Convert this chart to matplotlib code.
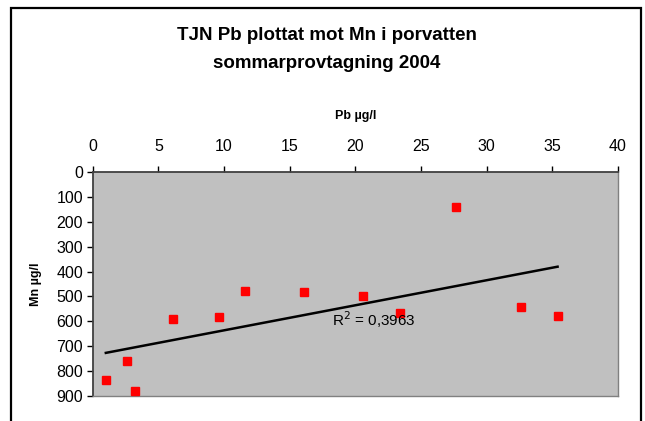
import numpy as np
from matplotlib import pyplot as plt
from matplotlib.patches import Rectangle

pb = [1.0, 2.6, 3.2, 6.1, 9.6, 11.6, 16.1, 20.6, 23.4, 27.7, 32.6, 35.4]
mn = [834, 757, 880, 589, 582, 477, 482, 498, 565, 143, 541, 578]
r2_text = 'R$^2$ = 0,3963'
xticks = [0, 5, 10, 15, 20, 25, 30, 35, 40]
yticks = [0, 100, 200, 300, 400, 500, 600, 700, 800, 900]

plt.rcParams['font.family'] = ['Liberation Sans', 'DejaVu Sans']

fig = plt.figure(figsize=(6.45, 4.21), dpi=100)
ax = fig.add_axes([92.7/645, 1-396.3/421, (618-92.7)/645, (396.3-171.7)/421])

# outer chart border, bottom runs off the picture
fig.patches.append(Rectangle((11/645, -0.1), 630/645, 1.1 - 8/421, transform=fig.transFigure,
                             fill=False, edgecolor='black', linewidth=1.6))

ax.set_facecolor('#c0c0c0')
ax.plot(pb, mn, 's', color='#ff0000', markersize=5.5, zorder=3)

k, m = np.polyfit(pb, mn, 1)
xs = np.array([min(pb), max(pb)])
ax.plot(xs, k*xs + m, color='black', linewidth=1.8, zorder=2)

ax.text(18.2, 594, r2_text, fontsize=11, ha='left', va='center', zorder=4)

ax.set_xlim(0, 40)
ax.set_ylim(900, 0)
ax.set_xticks(xticks)
ax.set_yticks(yticks)
ax.xaxis.tick_top()
ax.xaxis.set_label_position('top')
ax.tick_params(axis='both', direction='out', length=4, width=1, labelsize=11.5, pad=3)
ax.tick_params(axis='x', pad=9)

for side in ['top', 'left']:
    ax.spines[side].set_color('#404040')
    ax.spines[side].set_linewidth(1.3)
for side in ['bottom', 'right']:
    ax.spines[side].set_color('#808080')
    ax.spines[side].set_linewidth(1)

ax.set_xlabel('Pb µg/l', fontsize=9, weight='bold', labelpad=14)
ax.set_ylabel('Mn µg/l', fontsize=9, weight='bold', labelpad=10)

fig.text(327/645, 1-35/421, 'TJN Pb plottat mot Mn i porvatten', fontsize=13.5, weight='bold',
         ha='center', va='center')
fig.text(327/645, 1-63/421, 'sommarprovtagning 2004', fontsize=13.5, weight='bold',
         ha='center', va='center')

fig.savefig('out.png', dpi=100)
